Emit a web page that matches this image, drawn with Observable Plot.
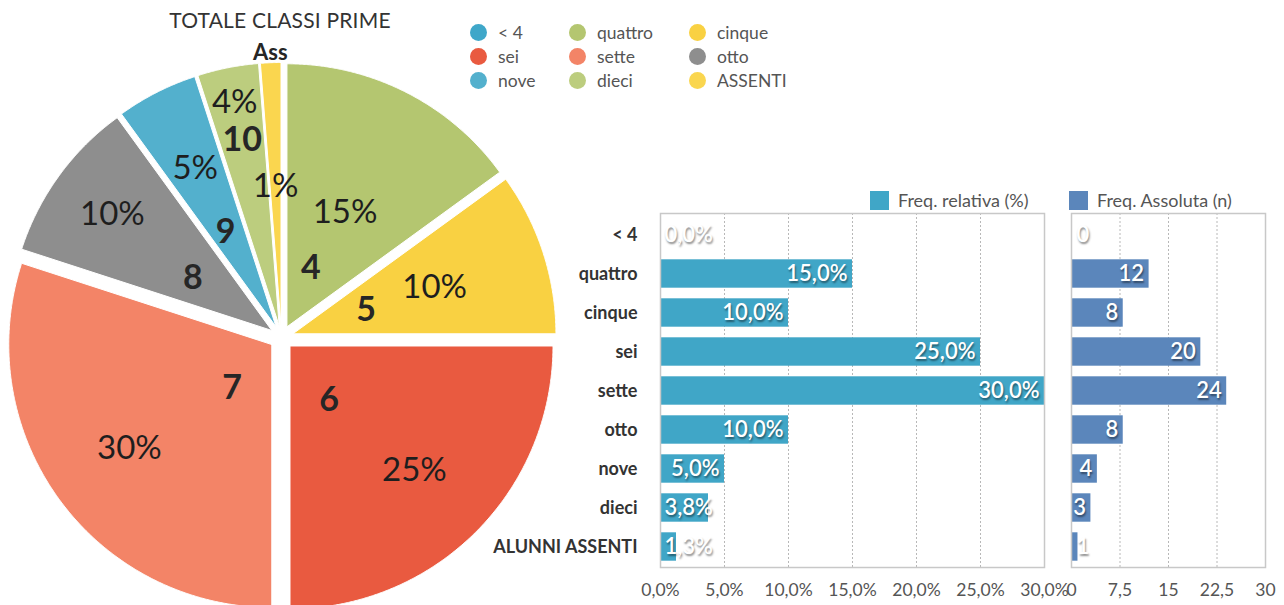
<!DOCTYPE html>
<html>
<head>
<meta charset="utf-8">
<script src="https://cdn.jsdelivr.net/npm/d3@7"></script>
<script src="https://cdn.jsdelivr.net/npm/@observablehq/plot@0.6"></script>
<style>
  html, body { margin: 0; padding: 0; background: #fff; }
  body { width: 1284px; height: 605px; position: relative; overflow: hidden; font-family: Lato, "Open Sans", sans-serif; }
  .abs { position: absolute; }
  #title { left: 0; width: 560px; top: 7px; text-align: center; font-size: 21px; color: #333; letter-spacing: 0.2px; }
  .leg { position: absolute; font-size: 17.5px; color: #555; line-height: 18px; white-space: nowrap; }
  .leg .dot { position: absolute; width: 17px; height: 17px; border-radius: 50%; left: -28px; top: 0px; }
  .bleg { position: absolute; font-size: 18px; color: #555; white-space: nowrap; line-height: 19px; }
  .bleg .sq { position: absolute; width: 19px; height: 19px; left: -28px; top: 0; }
  .bars g[aria-label="text"] text { text-shadow: 1px 1.5px 2px rgba(0,0,0,0.45); }
</style>
</head>
<body>
<div id="pie" class="abs" style="left:0;top:0"></div>
<div id="title" class="abs">TOTALE CLASSI PRIME</div>
<div id="legend"></div>
<div id="bars1" class="abs bars" style="left:480px;top:200px"></div>
<div id="bars2" class="abs bars" style="left:1051px;top:200px"></div>
<div class="bleg" style="left:898px;top:191px"><span class="sq" style="background:#40a6c7"></span>Freq. relativa (%)</div>
<div class="bleg" style="left:1097px;top:191px"><span class="sq" style="background:#5b86bb"></span>Freq. Assoluta (n)</div>
<script>
// ---------- DATA ----------
const categories = ["< 4", "quattro", "cinque", "sei", "sette", "otto", "nove", "dieci", "ALUNNI ASSENTI"];
const legendLabels = ["< 4", "quattro", "cinque", "sei", "sette", "otto", "nove", "dieci", "ASSENTI"];
const pieNumLabels = ["", "4", "5", "6", "7", "8", "9", "10", "Ass"];
const relFreq = [0, 15, 10, 25, 30, 10, 5, 3.75, 1.25];   // %
const absFreq = [0, 12, 8, 20, 24, 8, 4, 3, 1];          // n
const sliceColors = ["#3fa7c9", "#b4c670", "#f9d142", "#e95a40", "#f38467", "#8e8e8e", "#53b0cd", "#bccd7e", "#fad64f"];
const relTicks = [0, 5, 10, 15, 20, 25, 30];
const absTicks = [0, 7.5, 15, 22.5, 30];

// ---------- LAYOUT (positions / sizes) ----------
const pieW = 560, pieH = 605, cx = 281, cy = 337, R = 263, explode = 12;
const pctLabelRadius = [0, 140, 161, 188, 188, 209, 190, 240, 151];
const numLabelRadius = [0, 75, 89, 79, 71, 107, 119, 201, 285];
const numLabelTurn = [0, -4, 0, 8, -10, -2, -1, 0, 0];   // degrees
const legendColX = [498, 597, 717], legendRowY = [24, 48, 72];

const comma = (v, n) => v.toFixed(n).replace(".", ",");

// ---------- PIE ----------
const slicePts = [], pctLabels = [], numLabels = [];
let cum = 0;
categories.forEach((c, i) => {
  const v = relFreq[i];
  const a0 = cum / 100 * 2 * Math.PI, a1 = (cum + v) / 100 * 2 * Math.PI;
  cum += v;
  if (v <= 0) return;
  const mid = (a0 + a1) / 2;
  const ox = explode * Math.sin(mid), oy = explode * Math.cos(mid);
  slicePts.push({cat: c, color: sliceColors[i], x: ox, y: oy});
  const n = Math.max(2, Math.ceil((a1 - a0) / 0.005));
  for (let k = 0; k <= n; k++) {
    const t = a0 + (a1 - a0) * k / n;
    slicePts.push({cat: c, color: sliceColors[i], x: ox + R * Math.sin(t), y: oy + R * Math.cos(t)});
  }
  slicePts.push({cat: c, color: sliceColors[i], x: ox, y: oy});
  pctLabels.push({x: pctLabelRadius[i] * Math.sin(mid), y: pctLabelRadius[i] * Math.cos(mid), t: Math.round(v) + "%"});
  const na = mid + numLabelTurn[i] * Math.PI / 180;
  numLabels.push({x: numLabelRadius[i] * Math.sin(na), y: numLabelRadius[i] * Math.cos(na), t: pieNumLabels[i], small: pieNumLabels[i].length > 2});
});

const pie = Plot.plot({
  width: pieW, height: pieH,
  margin: 0,
  x: {domain: [-cx, pieW - cx], range: [0, pieW], axis: null},
  y: {domain: [cy - pieH, cy], range: [pieH, 0], axis: null},
  color: {type: "identity"},
  style: {fontFamily: "Lato, 'Open Sans', sans-serif", background: "transparent"},
  marks: [
    Plot.line(slicePts, {x: "x", y: "y", z: "cat", fill: "color", stroke: "white", strokeWidth: 1, curve: "linear"}),
    Plot.text(pctLabels, {x: "x", y: "y", text: "t", fontSize: 33, fill: "#1e1e1e", fontWeight: 400}),
    Plot.text(numLabels, {x: "x", y: "y", text: "t", fontSize: d => d.small ? 22 : 34, fill: "#262626", fontWeight: 700})
  ]
});
document.getElementById("pie").appendChild(pie);

// ---------- LEGEND ----------
const legend = document.getElementById("legend");
legendLabels.forEach((l, i) => {
  const el = document.createElement("div");
  el.className = "leg";
  el.style.left = legendColX[i % 3] + "px";
  el.style.top = legendRowY[Math.floor(i / 3)] + "px";
  el.innerHTML = `<span class="dot" style="background:${sliceColors[i]}"></span>`;
  el.appendChild(document.createTextNode(l));
  legend.appendChild(el);
});

// ---------- BARS ----------
const rows = categories.map((c, i) => ({cat: c, rel: relFreq[i], abs: absFreq[i]}));
const barFont = "Lato, 'Open Sans', sans-serif";

const bars1 = Plot.plot({
  width: 584, height: 405,
  marginLeft: 180, marginRight: 20, marginTop: 13, marginBottom: 38,
  style: {fontFamily: barFont, fontSize: "17.5px", color: "#555", background: "transparent", overflow: "visible"},
  x: {domain: [0, 30], ticks: relTicks, tickFormat: d => comma(d, 1) + "%", tickSize: 0, tickPadding: 16, label: null},
  y: {domain: categories, padding: 0, tickSize: 0, tickPadding: 23, label: null},
  marks: [
    Plot.ruleX(relTicks.slice(1, -1), {stroke: "#b8b8b8", strokeDasharray: "2,2"}),
    Plot.barX(rows, {x: "rel", y: "cat", fill: "#40a6c7", insetTop: 5.3, insetBottom: 5.3}),
    Plot.frame({stroke: "#c8c8c8", strokeWidth: 1.5}),
    Plot.axisY({tickSize: 0, tickPadding: 23, fontWeight: 700, fill: "#333", fontSize: 18}),
    Plot.text(rows.filter(d => d.rel >= 4.5), {x: "rel", y: "cat", text: d => comma(d.rel, 1) + "%", textAnchor: "end", dx: -5, fill: "white", fontSize: 22, fontWeight: 600}),
    Plot.text(rows.filter(d => d.rel < 4.5), {frameAnchor: "left", y: "cat", text: d => comma(d.rel, 1) + "%", textAnchor: "start", dx: 4, fill: "white", fontSize: 22, fontWeight: 600})
  ]
});
document.getElementById("bars1").appendChild(bars1);

const bars2 = Plot.plot({
  width: 233, height: 405,
  marginLeft: 20, marginRight: 19, marginTop: 13, marginBottom: 38,
  style: {fontFamily: barFont, fontSize: "17.5px", color: "#555", background: "transparent"},
  x: {domain: [0, 30], ticks: absTicks, tickFormat: d => String(d).replace(".", ","), tickSize: 0, tickPadding: 16, label: null},
  y: {domain: categories, padding: 0, axis: null},
  marks: [
    Plot.ruleX(absTicks.slice(1, -1), {stroke: "#b8b8b8", strokeDasharray: "2,2"}),
    Plot.barX(rows, {x: "abs", y: "cat", fill: "#5b86bb", insetTop: 5.3, insetBottom: 5.3}),
    Plot.frame({stroke: "#c8c8c8", strokeWidth: 1.5}),
    Plot.text(rows.filter(d => d.abs >= 2), {x: "abs", y: "cat", text: d => String(d.abs), textAnchor: "end", dx: -5, fill: "white", fontSize: 22, fontWeight: 600}),
    Plot.text(rows.filter(d => d.abs < 2), {frameAnchor: "left", y: "cat", text: d => String(d.abs), textAnchor: "start", dx: 5, fill: "white", fontSize: 22, fontWeight: 600})
  ]
});
document.getElementById("bars2").appendChild(bars2);
</script>
</body>
</html>
